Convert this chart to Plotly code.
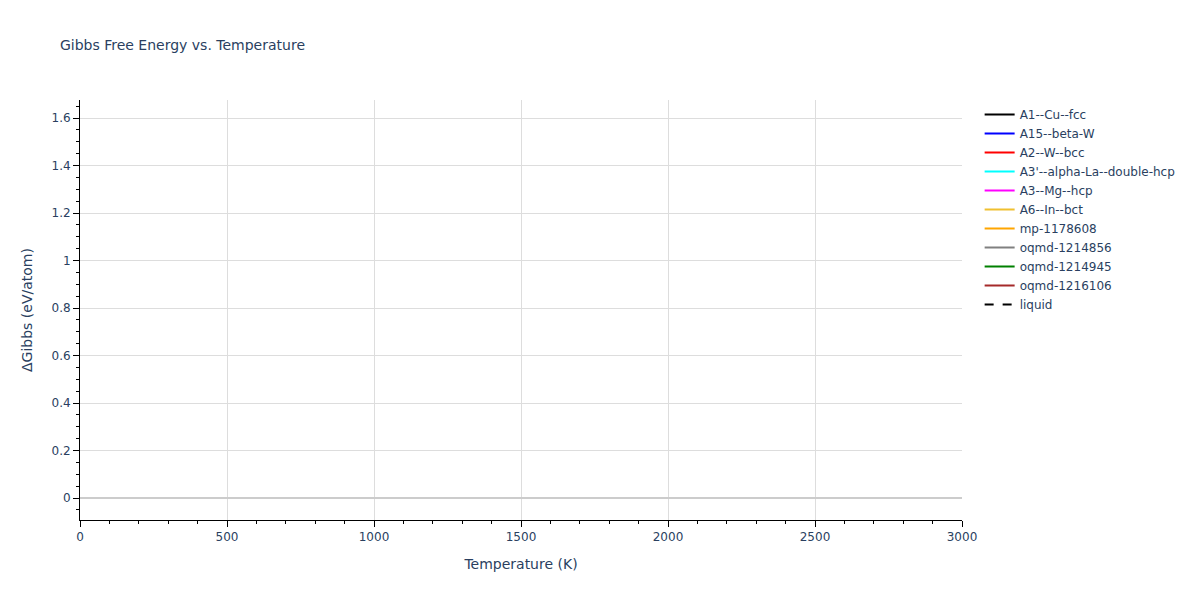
import plotly.graph_objects as go

# phases in the legend, with their line colours
phases = ['A1--Cu--fcc', 'A15--beta-W', 'A2--W--bcc', "A3'--alpha-La--double-hcp",
          'A3--Mg--hcp', 'A6--In--bct', 'mp-1178608', 'oqmd-1214856',
          'oqmd-1214945', 'oqmd-1216106', 'liquid']
colors = ['black', 'blue', 'red', 'cyan', 'magenta', '#F0C030', 'orange',
          'gray', 'green', 'brown', 'black']
dashes = ['solid'] * 10 + ['dash']

# no curves are visible in the reference: each series holds only a gap
temperature = [None]
gibbs = {p: [None] for p in phases}

fig = go.Figure()
for p, c, d in zip(phases, colors, dashes):
    fig.add_trace(go.Scatter(x=temperature, y=gibbs[p], mode='lines', name=p,
                             line=dict(color=c, dash=d, width=2)))

axis_style = dict(showline=True, linecolor='black', linewidth=1, ticks='outside',
                  tickcolor='black', ticklen=6, showgrid=True, gridcolor='#dddddd',
                  minor=dict(ticks='outside', ticklen=3, tickcolor='black', showgrid=False),
                  zeroline=True, zerolinecolor='#cccccc', zerolinewidth=2,
                  tickfont=dict(size=12))

fig.update_layout(
    template='plotly_white',
    width=1200, height=600,
    font=dict(family='DejaVu Sans, Verdana, sans-serif', color='#2a3f5f'),
    title=dict(text='Gibbs Free Energy vs. Temperature', x=0.0433, y=0.947,
               font=dict(size=14)),
    margin=dict(l=72, r=246, t=92, b=88),
    legend=dict(x=1.02, y=1, font=dict(size=12)),
    showlegend=True,
)
fig.update_xaxes(title=dict(text='Temperature (K)', font=dict(size=14)),
                 range=[0, 3000], dtick=500, **axis_style)
fig.update_yaxes(title=dict(text='ΔGibbs (eV/atom)', font=dict(size=14)),
                 range=[-0.0926, 1.676], dtick=0.2, **axis_style)

fig.write_html('out.html')
